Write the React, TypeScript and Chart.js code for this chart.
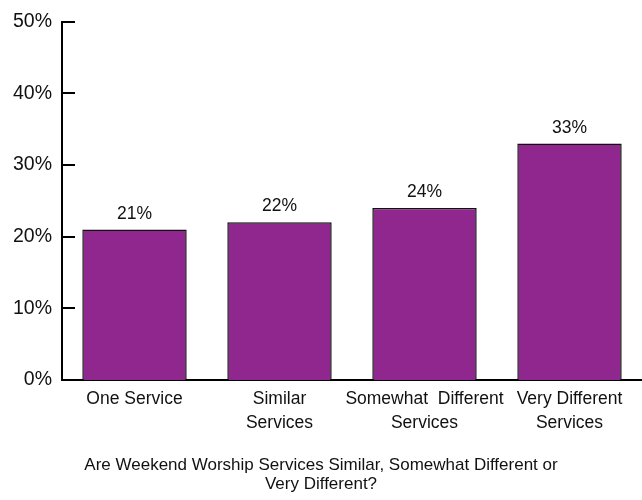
import React, { useEffect, useRef } from "react";
import { Chart, registerables } from "chart.js";

Chart.register(...registerables);

const categories: string[][] = [
  ["One Service"],
  ["Similar", "Services"],
  ["Somewhat  Different", "Services"],
  ["Very Different", "Services"],
];
const values: number[] = [21, 22, 24, 33];
const yTicks: number[] = [0, 10, 20, 30, 40, 50];
const titleLines: string[] = [
  "Are Weekend Worship Services Similar, Somewhat Different or",
  "Very Different?",
];

const FONT = "'Liberation Sans', Arial, sans-serif";

const innerTicks = {
  id: "innerTicks",
  afterDatasetsDraw(chart: any) {
    const { ctx, scales } = chart;
    const y = scales.y;
    const left = chart.chartArea.left;
    ctx.save();
    ctx.strokeStyle = "#000";
    ctx.lineWidth = 2;
    yTicks.forEach((v) => {
      if (v === 0) return;
      const py = Math.round(y.getPixelForValue(v));
      ctx.beginPath();
      ctx.moveTo(left, py);
      ctx.lineTo(left + 13, py);
      ctx.stroke();
    });
    ctx.restore();
  },
};

const valueLabels = {
  id: "valueLabels",
  afterDatasetsDraw(chart: any) {
    const { ctx } = chart;
    const meta = chart.getDatasetMeta(0);
    ctx.save();
    ctx.fillStyle = "#111";
    ctx.font = `17.5px ${FONT}`;
    ctx.textAlign = "center";
    ctx.textBaseline = "bottom";
    meta.data.forEach((bar: any, i: number) => {
      ctx.fillText(values[i] + "%", bar.x, bar.y - 7);
    });
    ctx.restore();
  },
};

export default function App() {
  const ref = useRef<HTMLCanvasElement | null>(null);
  useEffect(() => {
    if (!ref.current) return;
    const chart = new Chart(ref.current, {
      type: "bar",
      data: {
        labels: categories,
        datasets: [
          {
            data: values,
            backgroundColor: "#8F278E",
            borderColor: "#111",
            borderWidth: 1.5,
            categoryPercentage: 1,
            barPercentage: 0.72,
          },
        ],
      },
      options: {
        animation: false,
        responsive: false,
        layout: { padding: { top: 18, left: 0, right: 0, bottom: 0 } },
        plugins: {
          legend: { display: false },
          tooltip: { enabled: false },
          title: {
            display: true,
            position: "bottom",
            text: titleLines,
            color: "#111",
            font: { family: FONT, size: 17, weight: "normal", lineHeight: 1.12 },
            padding: { top: 16, bottom: 6 },
          },
        },
        scales: {
          x: {
            grid: { display: false, drawTicks: false },
            border: { display: true, color: "#000", width: 2 },
            ticks: {
              color: "#111",
              font: { family: FONT, size: 17.5, lineHeight: 1.37 },
              padding: 7,
              maxRotation: 0,
              autoSkip: false,
            },
            afterFit(scale: any) {
              scale.height = 60;
            },
          },
          y: {
            min: 0,
            max: 50,
            grid: { display: false, drawTicks: false },
            border: { display: true, color: "#000", width: 2 },
            ticks: {
              stepSize: 10,
              color: "#111",
              font: { family: FONT, size: 19.5 },
              padding: 10,
              callback: (v: any) => v + "%",
            },
            afterFit(scale: any) {
              scale.width = 62;
            },
          },
        },
      },
      plugins: [innerTicks, valueLabels],
    });
    return () => chart.destroy();
  }, []);
  return (
    <div style={{ position: "fixed", left: 0, top: 0, width: 642, height: 500, background: "#fff" }}>
      <canvas ref={ref} width={642} height={500} style={{ display: "block" }} />
    </div>
  );
}
